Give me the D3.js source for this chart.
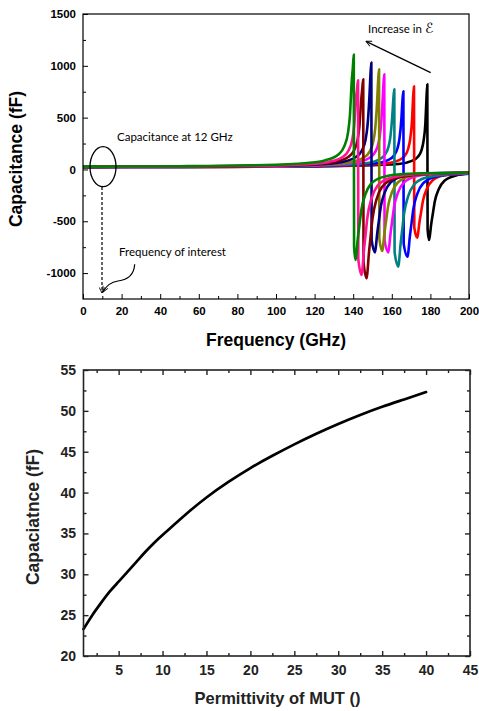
<!DOCTYPE html>
<html><head><meta charset="utf-8">
<script src="https://cdn.jsdelivr.net/npm/d3@7"></script>
<style>body{margin:0;background:#fff} svg{display:block}</style>
</head><body><svg id="c" width="479" height="711"></svg>
<script>
// ---------- Top chart data ----------
const freqTicks = [0,20,40,60,80,100,120,140,160,180,200];
const freqMinor = [10,30,50,70,90,110,130,150,170,190];
const capTicks = [-1000,-500,0,500,1000,1500];
const capMinor = [-750,-250,250,750,1250];
const seriesColors = ["#000000","#ff0000","#0000ff","#008080","#ff00ff","#808000","#000080","#800000","#ff1493","#008000"];
const black = [[0,22],[50,24],[100,26],[120,29],[163.4,53],[170.4,83],[173.4,120],[175.4,187],[176.4,270],[177.4,445],[177.9,660],[178.4,822],[178.55,-579],[179.3,-681],[179.8,-627],[180.3,-545],[181.3,-422],[182.3,-306],[184.3,-191],[187.3,-109],[193.3,-58],[200,-42]];
const red = [[0,23],[50,24],[100,28],[120,30],[156.5,56],[163.5,88],[166.5,128],[168.5,200],[169.5,290],[170.5,480],[171,680],[171.5,803],[171.65,-560],[173.2,-659],[173.7,-606],[174.2,-527],[175.2,-409],[176.2,-297],[178.2,-185],[181.2,-105],[187.2,-56],[200,-38]];
const blue = [[0,23],[50,25],[100,28],[120,32],[151,57],[158,90],[161,132],[163,207],[164,300],[165,496],[165.5,660],[166,754],[166.15,-716],[168.2,-842],[168.7,-775],[169.2,-674],[170.2,-522],[171.2,-379],[173.2,-236],[176.2,-135],[182.2,-72],[193.2,-45],[200,-40]];
const teal = [[0,24],[50,25],[100,30],[120,35],[146.3,60],[153.3,95],[156.3,140],[158.3,220],[159.3,320],[160.3,530],[160.8,680],[161.3,774],[161.45,-797],[163.4,-938],[163.9,-863],[164.4,-750],[165.4,-582],[166.4,-422],[168.4,-263],[171.4,-150],[177.4,-80],[188.4,-50],[200,-38]];
const magenta = [[0,24],[50,27],[100,32],[120,39],[141.1,67],[148.1,108],[151.1,160],[153.1,253],[154.1,370],[155.1,615],[155.6,800],[156.1,918],[156.25,-680],[158.2,-800],[158.7,-736],[159.2,-640],[160.2,-496],[161.2,-360],[163.2,-224],[166.2,-128],[172.2,-68],[183.2,-42],[200,-33]];
const olive = [[0,25],[50,27],[100,34],[120,42],[138.4,70],[145.4,114],[148.4,170],[150.4,270],[151.4,395],[152.4,658],[152.9,850],[153.4,966],[153.55,-669],[155.1,-787],[155.6,-724],[156.1,-630],[157.1,-488],[158.1,-354],[160.1,-220],[163.1,-126],[169.1,-67],[180.1,-40],[200,-32]];
const navy = [[0,25],[50,28],[100,36],[120,47],[134.4,73],[141.4,120],[144.4,180],[146.4,287],[147.4,420],[148.4,700],[148.9,900],[149.4,1031],[149.55,-680],[151.3,-800],[151.8,-736],[152.3,-640],[153.3,-496],[154.3,-360],[156.3,-224],[159.3,-128],[165.3,-68],[176.3,-40],[200,-30]];
const maroon = [[0,25],[50,28],[100,37],[120,51],[130.2,72],[137.2,118],[140.2,176],[142.2,280],[143.2,410],[144.2,683],[144.7,780],[145.2,870],[145.35,-893],[147,-1050],[147.5,-966],[148,-840],[149,-651],[150,-473],[152,-294],[155,-168],[161,-89],[172,-53],[200,-32]];
const pink = [[0,26],[50,29],[100,39],[120,56],[127.5,73],[134.5,120],[137.5,180],[139.5,287],[140.5,420],[141.5,700],[142,770],[142.5,860],[142.65,-865],[144.4,-1018],[144.9,-937],[145.4,-814],[146.4,-631],[147.4,-458],[149.4,-285],[152.4,-163],[158.4,-87],[169.4,-51],[200,-30]];
const green = [[0,27],[50,31],[100,45],[120,69],[125.3,87],[132.3,145],[135.3,220],[137.3,353],[138.3,520],[139.3,870],[139.8,975],[140.3,1108],[140.45,-743],[141.2,-874],[141.7,-804],[142.2,-699],[143.2,-542],[144.2,-393],[146.2,-245],[149.2,-140],[155.2,-74],[166.2,-44],[200,-30]];
const topSeries = [black, red, blue, teal, magenta, olive, navy, maroon, pink, green];

// ---------- Bottom chart data ----------
const permTicks = [5,10,15,20,25,30,35,40,45];
const permMinor = [2.5,7.5,12.5,17.5,22.5,27.5,32.5,37.5,42.5];
const cTicks = [20,25,30,35,40,45,50,55];
const cMinor = [22.5,27.5,32.5,37.5,42.5,47.5,52.5];
const permittivity = [1,2,3,4,5,6,7,8,9,10,12.5,15,17.5,20,22.5,25,27.5,30,32.5,35,37.5,40];
const capacitance = [23.3,25.0,26.5,27.9,29.1,30.3,31.5,32.7,33.8,34.8,37.2,39.4,41.3,43.0,44.5,45.9,47.2,48.4,49.5,50.5,51.4,52.3];

const svg = d3.select("#c");
const defs = svg.append("defs");
defs.append("marker").attr("id","openArrow").attr("viewBox","0 0 10 10").attr("refX",9).attr("refY",5)
  .attr("markerWidth",7).attr("markerHeight",7).attr("orient","auto").attr("markerUnits","userSpaceOnUse")
  .append("path").attr("d","M1,1 L9,5 L1,9").attr("fill","none").attr("stroke","#000").attr("stroke-width",1.3);

const plainFmt = d => String(d);

// ================= TOP CHART =================
const L=83, R=469, T=14, B=299;
const x = d3.scaleLinear([0,200],[L,R]);
const y = d3.scaleLinear([-1250,1500],[B,T]);
defs.append("clipPath").attr("id","clipTop").append("rect").attr("x",L).attr("y",T).attr("width",R-L).attr("height",B-T);

const g1 = svg.append("g");
const line = d3.line().x(d=>x(d[0])).y(d=>y(d[1])).curve(d3.curveMonotoneX);
g1.append("g").attr("clip-path","url(#clipTop)").selectAll("path").data(topSeries).join("path")
  .attr("d",line).attr("fill","none").attr("stroke",(d,i)=>seriesColors[i])
  .attr("stroke-width",2.6).attr("stroke-linejoin","round");

function styleAxis(sel, size, color){
  sel.select(".domain").remove();
  sel.selectAll("line").attr("stroke",color).attr("stroke-width",1);
  sel.selectAll("text").attr("font-family","'Liberation Sans', Arial, sans-serif").attr("font-weight","bold")
    .attr("font-size",size).attr("fill",color);
}
g1.append("g").attr("transform",`translate(0,${B})`)
  .call(d3.axisBottom(x).tickValues(freqTicks).tickFormat(plainFmt).tickSizeInner(-5).tickSizeOuter(0).tickPadding(8))
  .call(s=>styleAxis(s,"11.5px","#000"));
g1.append("g").attr("transform",`translate(0,${B})`)
  .call(d3.axisBottom(x).tickValues(freqMinor).tickSizeInner(-3).tickSizeOuter(0).tickFormat(""))
  .call(s=>styleAxis(s,"11px","#000"));
g1.append("g").attr("transform",`translate(${L},0)`)
  .call(d3.axisLeft(y).tickValues(capTicks).tickFormat(plainFmt).tickSizeInner(-5).tickSizeOuter(0).tickPadding(7))
  .call(s=>styleAxis(s,"11.5px","#000"));
g1.append("g").attr("transform",`translate(${L},0)`)
  .call(d3.axisLeft(y).tickValues(capMinor).tickSizeInner(-3).tickSizeOuter(0).tickFormat(""))
  .call(s=>styleAxis(s,"11px","#000"));
g1.append("rect").attr("x",L).attr("y",T).attr("width",R-L).attr("height",B-T)
  .attr("fill","none").attr("stroke","#000").attr("stroke-width",1.2);

g1.append("text").attr("transform","translate(22,159) rotate(-90)").attr("text-anchor","middle")
  .attr("font-family","'Liberation Sans', Arial, sans-serif").attr("font-weight","bold").attr("font-size","17.5px")
  .text("Capacitance (fF)");
g1.append("text").attr("x",276).attr("y",346).attr("text-anchor","middle")
  .attr("font-family","'Liberation Sans', Arial, sans-serif").attr("font-weight","bold").attr("font-size","17.5px")
  .text("Frequency (GHz)");

// annotations
const annFont = "Lato, 'Open Sans', sans-serif";
g1.append("ellipse").attr("cx",103).attr("cy",166.7).attr("rx",13).attr("ry",20)
  .attr("fill","none").attr("stroke","#000").attr("stroke-width",1.3);
g1.append("line").attr("x1",102).attr("y1",187).attr("x2",102).attr("y2",293)
  .attr("stroke","#000").attr("stroke-width",1.2).attr("stroke-dasharray","3,2").attr("marker-end","url(#openArrow)");
g1.append("path").attr("d","M134.7,264.3 C134,275 127,280 118,281 C111,282 106,286 103,292")
  .attr("fill","none").attr("stroke","#000").attr("stroke-width",1.2).attr("marker-end","url(#openArrow)");
g1.append("text").attr("x",117).attr("y",141).attr("font-family",annFont).attr("font-size","11.5px").text("Capacitance at 12 GHz");
g1.append("text").attr("x",119).attr("y",255.5).attr("font-family",annFont).attr("font-size","11.5px").text("Frequency of interest");
const inc = g1.append("text").attr("x",368).attr("y",32.5).attr("font-family",annFont).attr("font-size","11.5px");
inc.append("tspan").text("Increase in ");
inc.append("tspan").attr("font-family","'DejaVu Sans', sans-serif").attr("font-size","14px").text("ℰ");
g1.append("line").attr("x1",430.7).attr("y1",72.7).attr("x2",366).attr("y2",41.3)
  .attr("stroke","#000").attr("stroke-width",1.3).attr("marker-end","url(#openArrow)");

// ================= BOTTOM CHART =================
const L2=83.5, R2=470, T2=370, B2=656;
const x2 = d3.scaleLinear([1,45],[L2,R2]);
const y2 = d3.scaleLinear([20,55],[B2,T2]);
const g2 = svg.append("g");
const col2 = "#222";
g2.append("path").datum(permittivity.map((p,i)=>[p,capacitance[i]]))
  .attr("d",d3.line().x(d=>x2(d[0])).y(d=>y2(d[1])).curve(d3.curveNatural))
  .attr("fill","none").attr("stroke","#000").attr("stroke-width",2.7).attr("stroke-linecap","round");

function ax(axisFn, scale, vals, size, pad, fmt, tr){
  const a = axisFn(scale).tickValues(vals).tickSizeInner(-size).tickSizeOuter(0).tickPadding(pad);
  a.tickFormat(fmt===false ? "" : plainFmt);
  g2.append("g").attr("transform",tr).call(a).call(s=>{
    s.select(".domain").remove();
    s.selectAll("line").attr("stroke",col2).attr("stroke-width",1.4);
    s.selectAll("text").attr("font-family","'Liberation Sans', Arial, sans-serif").attr("font-weight","bold")
      .attr("font-size","14px").attr("fill",col2);
  });
}
ax(d3.axisBottom, x2, permTicks, 5, 9, true, `translate(0,${B2})`);
ax(d3.axisBottom, x2, permMinor, 3, 9, false, `translate(0,${B2})`);
ax(d3.axisTop, x2, permTicks, 5, 9, false, `translate(0,${T2})`);
ax(d3.axisTop, x2, permMinor, 3, 9, false, `translate(0,${T2})`);
ax(d3.axisLeft, y2, cTicks, 5, 7.5, true, `translate(${L2},0)`);
ax(d3.axisLeft, y2, cMinor, 3, 7.5, false, `translate(${L2},0)`);
ax(d3.axisRight, y2, cTicks, 5, 7.5, false, `translate(${R2},0)`);
ax(d3.axisRight, y2, cMinor, 3, 7.5, false, `translate(${R2},0)`);
g2.append("rect").attr("x",L2).attr("y",T2).attr("width",R2-L2).attr("height",B2-T2)
  .attr("fill","none").attr("stroke",col2).attr("stroke-width",1.6);

g2.append("text").attr("transform","translate(39,517) rotate(-90)").attr("text-anchor","middle")
  .attr("font-family","'Liberation Sans', Arial, sans-serif").attr("font-weight","bold").attr("font-size","17.5px")
  .attr("fill",col2).text("Capaciatnce (fF)");
g2.append("text").attr("x",277.5).attr("y",704).attr("text-anchor","middle")
  .attr("font-family","'Liberation Sans', Arial, sans-serif").attr("font-weight","bold").attr("font-size","16.5px")
  .attr("fill",col2).text("Permittivity of MUT ()");
</script>
</body></html>
